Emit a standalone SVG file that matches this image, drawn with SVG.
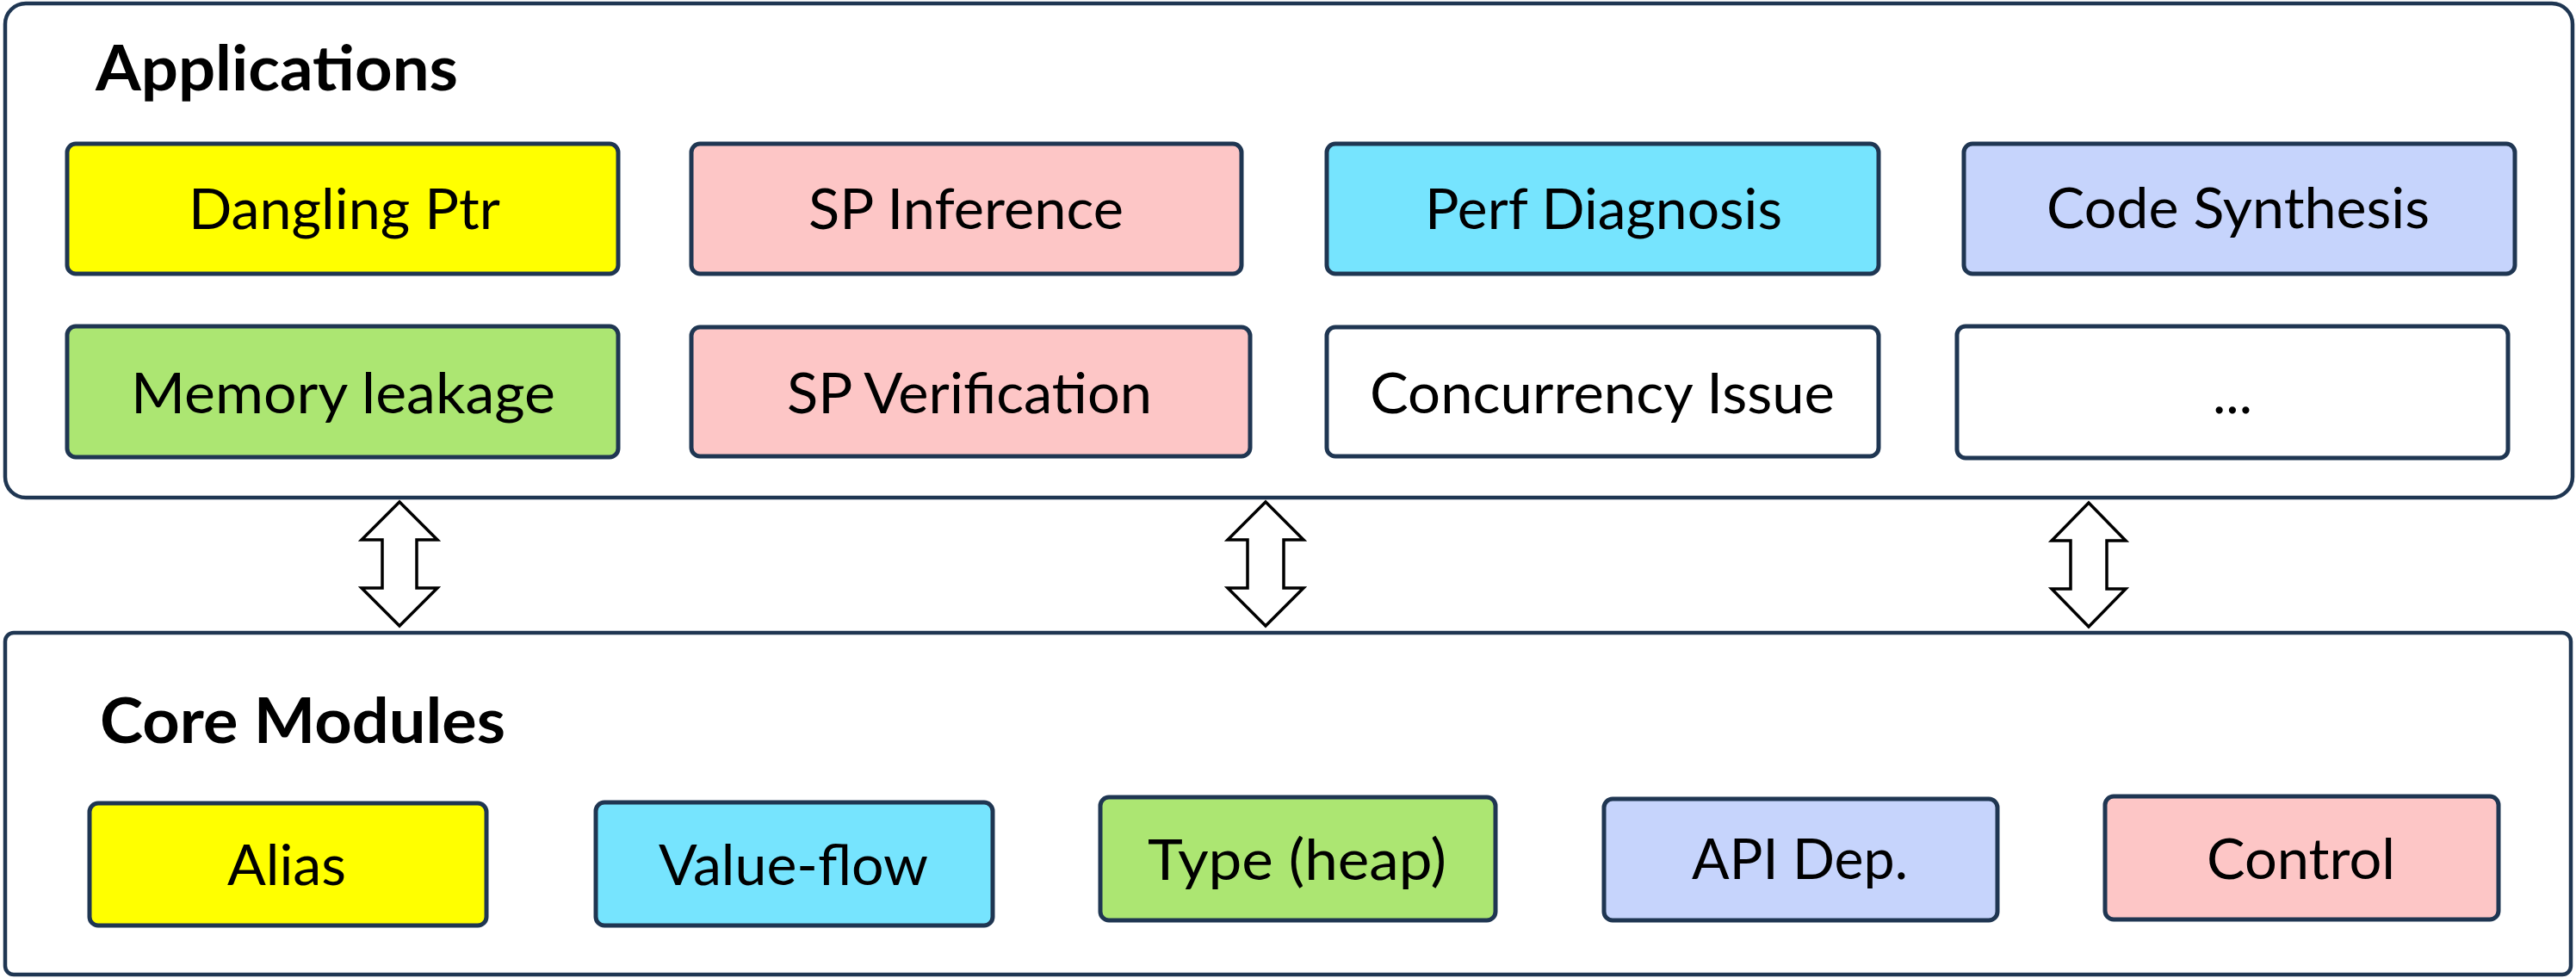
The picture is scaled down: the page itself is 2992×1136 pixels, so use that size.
<svg xmlns="http://www.w3.org/2000/svg" width="2992" height="1136" viewBox="0 0 2992 1136">
<style>
.panel{fill:#ffffff;stroke:#1f3652;stroke-width:4.5}
.box{stroke:#1f3652;stroke-width:5}
.lbl{font-family:Lato,"Open Sans","Liberation Sans",sans-serif;font-size:65px;fill:#000000}
.ttl{font-family:Lato,"Open Sans","Liberation Sans",sans-serif;font-size:73px;font-weight:bold;fill:#000000}
.yel{fill:#ffff00}
.pnk{fill:#fdc6c6}
.cyn{fill:#76e4fe}
.blu{fill:#c6d4fc}
.grn{fill:#ace672}
.wht{fill:#ffffff}
.arr{fill:#ffffff;stroke:#000000;stroke-width:3.5;stroke-linejoin:miter}
</style>
<rect width="2992" height="1136" fill="#ffffff"/>
<g id="applications">
<rect class="panel" x="6" y="4" width="2982" height="574" rx="24"/>
<text class="ttl" x="111" y="105" textLength="421" lengthAdjust="spacingAndGlyphs">Applications</text>
</g>
<g id="core-modules">
<rect class="panel" x="6" y="735" width="2980" height="397" rx="10"/>
<text class="ttl" x="116" y="863" textLength="471" lengthAdjust="spacingAndGlyphs">Core Modules</text>
</g>
<g id="dangling-ptr">
<rect class="box yel" x="78" y="167" width="640" height="151" rx="10"/>
<text class="lbl" x="219" y="266" textLength="362" lengthAdjust="spacingAndGlyphs">Dangling Ptr</text>
</g>
<g id="sp-inference">
<rect class="box pnk" x="803" y="167" width="639" height="151" rx="10"/>
<text class="lbl" x="939" y="266" textLength="366" lengthAdjust="spacingAndGlyphs">SP Inference</text>
</g>
<g id="perf-diagnosis">
<rect class="box cyn" x="1541" y="167" width="641" height="151" rx="10"/>
<text class="lbl" x="1655" y="266" textLength="415" lengthAdjust="spacingAndGlyphs">Perf Diagnosis</text>
</g>
<g id="code-synthesis">
<rect class="box blu" x="2281" y="167" width="640" height="151" rx="10"/>
<text class="lbl" x="2377" y="265" textLength="445" lengthAdjust="spacingAndGlyphs">Code Synthesis</text>
</g>
<g id="memory-leakage">
<rect class="box grn" x="78" y="379" width="640" height="152" rx="10"/>
<text class="lbl" x="152" y="480" textLength="493" lengthAdjust="spacingAndGlyphs">Memory leakage</text>
</g>
<g id="sp-verification">
<rect class="box pnk" x="803" y="380" width="649" height="150" rx="10"/>
<text class="lbl" x="914" y="480" textLength="424" lengthAdjust="spacingAndGlyphs">SP Verification</text>
</g>
<g id="concurrency-issue">
<rect class="box wht" x="1541" y="380" width="641" height="150" rx="10"/>
<text class="lbl" x="1591" y="480" textLength="540" lengthAdjust="spacingAndGlyphs">Concurrency Issue</text>
</g>
<g id="more">
<rect class="box wht" x="2273" y="379" width="640" height="153" rx="10"/>
<text class="lbl" x="2593" y="480" text-anchor="middle">...</text>
</g>
<g id="alias">
<rect class="box yel" x="104" y="933" width="461" height="142" rx="10"/>
<text class="lbl" x="264" y="1028" textLength="138" lengthAdjust="spacingAndGlyphs">Alias</text>
</g>
<g id="value-flow">
<rect class="box cyn" x="692" y="932" width="461" height="143" rx="10"/>
<text class="lbl" x="765" y="1028" textLength="313" lengthAdjust="spacingAndGlyphs">Value-flow</text>
</g>
<g id="type-heap">
<rect class="box grn" x="1278" y="926" width="459" height="143" rx="10"/>
<text class="lbl" x="1333" y="1022" textLength="347" lengthAdjust="spacingAndGlyphs">Type (heap)</text>
</g>
<g id="api-dep">
<rect class="box blu" x="1863" y="928" width="457" height="141" rx="10"/>
<text class="lbl" x="1965" y="1021" textLength="251" lengthAdjust="spacingAndGlyphs">API Dep.</text>
</g>
<g id="control">
<rect class="box pnk" x="2445" y="925" width="457" height="143" rx="10"/>
<text class="lbl" x="2563" y="1021" textLength="219" lengthAdjust="spacingAndGlyphs">Control</text>
</g>
<g id="connectors">
<polygon class="arr" points="464,583 508,627 484,627 484,683 508,683 464,727 420,683 444,683 444,627 420,627"/>
<polygon class="arr" points="1470,583 1514,627 1491,627 1491,683 1514,683 1470,727 1426,683 1449,683 1449,627 1426,627"/>
<polygon class="arr" points="2426,584 2469,628 2447,628 2447,684 2469,684 2426,728 2383,684 2405,684 2405,628 2383,628"/>
</g>
</svg>
